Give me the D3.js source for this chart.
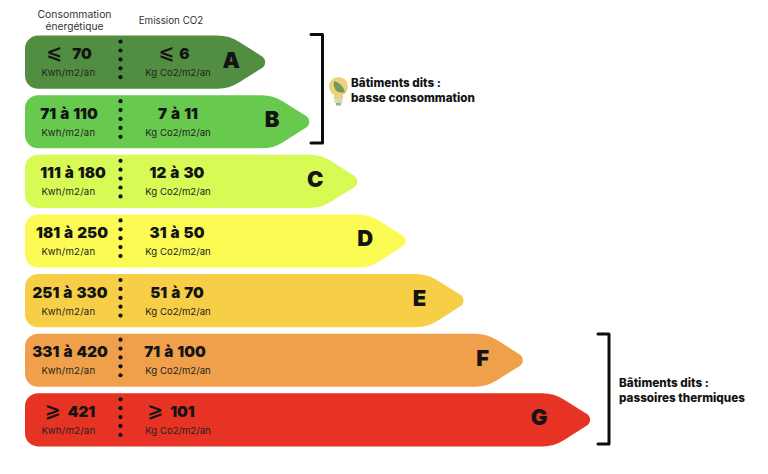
<!DOCTYPE html>
<html lang="fr">

<head>
  <meta charset="UTF-8" />
  <title>DPE</title>
  <style>
    body {
      margin: 0;
      background: #fff;
    }

    text {
      font-family: Inter, "Noto Sans", sans-serif;
      fill: #141414;
    }

    .value {
      font-size: 15.2px;
      font-weight: 900;
      text-anchor: middle;
      word-spacing: 1px;
    }

    .sign {
      font-family: "DejaVu Sans";
      font-weight: 700;
      font-size: 19px;
    }

    .unit {
      font-size: 9.6px;
      text-anchor: middle;
      fill: #222;
    }

    .letter {
      font-size: 22px;
      font-weight: 900;
      text-anchor: middle;
    }

    .head {
      font-size: 9.8px;
      text-anchor: middle;
      fill: #333;
    }

    .note {
      font-size: 11.7px;
      font-weight: 800;
    }
  </style>
</head>

<body>
  <div id="container"></div>
  <script src="https://cdn.jsdelivr.net/npm/d3@7"></script>
  <script>
    const classes = ["A", "B", "C", "D", "E", "F", "G"];
    const reach = [42.5, 50.3, 58.8, 67.3, 77.6, 88.1, 100];
    const energy = [["⩽", "70"], [null, "71 à 110"], [null, "111 à 180"], [null, "181 à 250"], [null, "251 à 330"], [null, "331 à 420"], ["⩾", "421"]];
    const co2 = [["⩽", "6"], [null, "7 à 11"], [null, "12 à 30"], [null, "31 à 50"], [null, "51 à 70"], [null, "71 à 100"], ["⩾", "101"]];
    const colors = ["#528e42", "#67c94d", "#d7fb54", "#fbfb54", "#f6cf47", "#f0a04b", "#e73323"];
    const energyUnit = "Kwh/m2/an";
    const co2Unit = "Kg Co2/m2/an";
    const lowNote = ["Bâtiments dits :", "basse consommation"];
    const highNote = ["Bâtiments dits :", "passoires thermiques"];

    // hand placement, the labels are not quite aligned in the original
    const letterInset = { A: 34, B: 37, C: 42, D: 40, E: 44, F: 40, G: 51 };
    const energyX = { A: 69, B: 69, C: 73, D: 72, E: 70, F: 70, G: 70 };
    const co2X = { A: 174, B: 178, C: 177, D: 177, E: 177, F: 175, G: 171 };
    const signGap = { A: [10, 5], G: [7, 7] };

    const svg = d3.select("#container").append("svg").attr("width", 768).attr("height", 474)
      .style("display", "block");

    const x = d3.scaleLinear().domain([0, 100]).range([25, 590]);
    const y = d3.scaleBand().domain(classes).range([35.6, 446.4]).paddingInner(0.108);

    function arrow(name, i) {
      const top = y(name), h = y.bandwidth(), mid = top + h / 2;
      const tip = x(reach[i]);
      const left = x(0);
      const p = d3.path();
      p.moveTo(left + 13, top);
      p.arcTo(tip - 36, top, tip + 6, mid, 40);
      p.arcTo(tip + 6, mid, tip - 36, top + h, 6.8);
      p.arcTo(tip - 36, top + h, left, top + h, 40);
      p.arcTo(left, top + h, left, top, 13);
      p.arcTo(left, top, left + 13, top, 13);
      p.closePath();
      return p.toString();
    }

    const rows = svg.selectAll("g.row").data(classes).enter().append("g").attr("class", "row");

    rows.append("path").attr("d", arrow).attr("fill", (_, i) => colors[i]);

    // the five dots between the two columns
    rows.each(function (name) {
      d3.select(this).selectAll("circle").data(d3.range(5)).enter().append("circle")
        .attr("cx", 120.5)
        .attr("cy", k => y(name) + 6 + k * 8.9)
        .attr("r", 2.1)
        .attr("fill", "#111");
    });

    function valueText(sel, centers, list, col) {
      sel.append("text").attr("class", "value")
        .attr("x", d => centers[d])
        .attr("y", d => y(d) + 23.5)
        .each(function (d, i) {
          const [sign, val] = list[i];
          const node = d3.select(this);
          if (sign) {
            node.append("tspan").attr("class", "sign").text(sign);
            node.append("tspan").attr("dx", signGap[d][col]).text(val);
          } else {
            node.text(val);
          }
        });
    }

    valueText(rows, energyX, energy, 0);
    valueText(rows, co2X, co2, 1);

    rows.append("text").attr("class", "unit").attr("x", 68.5).attr("y", d => y(d) + 40.5)
      .attr("letter-spacing", 0.25).text(energyUnit);
    rows.append("text").attr("class", "unit").attr("x", 178).attr("y", d => y(d) + 40.5).text(co2Unit);

    rows.append("text").attr("class", "letter")
      .attr("x", (d, i) => x(reach[i]) - letterInset[d])
      .attr("y", d => y(d) + 32)
      .text(d => d);

    // column headers
    svg.append("text").attr("class", "head").attr("x", 74.5).attr("y", 18).style("font-size", "10.4px").text("Consommation");
    svg.append("text").attr("class", "head").attr("x", 74.5).attr("y", 30).style("font-size", "10.2px").text("énergétique");
    svg.append("text").attr("class", "head").attr("x", 171).attr("y", 24).text("Emission CO2");

    function bracket(x0, x1, y0, y1) {
      const p = d3.path();
      p.moveTo(x0, y0);
      p.lineTo(x1, y0);
      p.lineTo(x1, y1);
      p.lineTo(x0, y1);
      svg.append("path").attr("d", p.toString()).attr("fill", "none")
        .attr("stroke", "#0c0c0c").attr("stroke-width", 3)
        .attr("stroke-linecap", "round").attr("stroke-linejoin", "round");
    }

    bracket(311, 322.5, 34.5, 143);
    bracket(598, 609, 334, 444);

    function note(lines, tx, ty) {
      svg.selectAll(null).data(lines).enter().append("text").attr("class", "note")
        .attr("x", tx)
        .attr("y", (_, i) => ty + i * 15.3)
        .text(d => d);
    }

    note(lowNote, 351, 87);
    note(highNote, 619, 387);

    // little light bulb with a leaf
    const bulb = svg.append("g");
    bulb.append("circle").attr("cx", 338.5).attr("cy", 86.5).attr("r", 9.5).attr("fill", "#ecd27a");
    bulb.append("rect").attr("x", 334).attr("y", 93).attr("width", 9).attr("height", 6).attr("fill", "#ecd27a");
    bulb.append("rect").attr("x", 334.5).attr("y", 99).attr("width", 8).attr("height", 4).attr("fill", "#d4d8d2");
    bulb.append("rect").attr("x", 336).attr("y", 103).attr("width", 5).attr("height", 2.5).attr("fill", "#8fb878");
    bulb.append("path").attr("d", "M334 81 Q342 83 345 92 Q338 94 335 89 Q333 85 334 81 Z").attr("fill", "#6f9a5a");
  </script>
</body>

</html>
